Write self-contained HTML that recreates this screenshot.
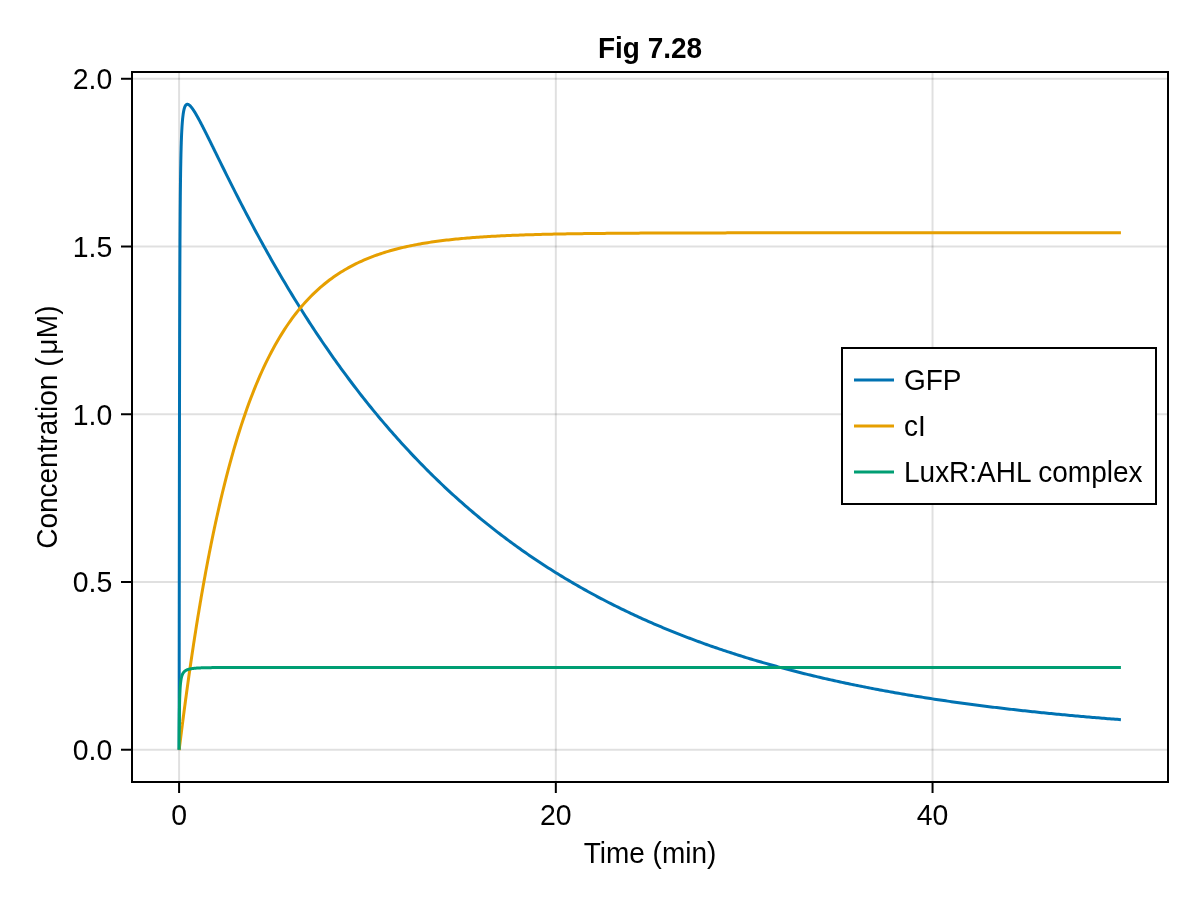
<!DOCTYPE html>
<html lang="en">
<head>
<meta charset="utf-8">
<title>Fig 7.28</title>
<style>
html,body{margin:0;padding:0;background:#fff;}
body{width:1200px;height:900px;overflow:hidden;}
svg{display:block;}
text{font-family:"Liberation Sans",Arial,Helvetica,sans-serif;font-size:28px;fill:#000;}
.b{font-weight:bold;}
.grid line{stroke:#000;stroke-opacity:0.12;stroke-width:2;}
.tick line{stroke:#000;stroke-width:2;}
.curve{fill:none;stroke-width:3;stroke-linejoin:round;stroke-linecap:butt;}
</style>
</head>
<body>
<svg width="1200" height="900" viewBox="0 0 1200 900">
<rect x="0" y="0" width="1200" height="900" fill="#ffffff"/>
<g class="grid">
<line x1="179.09" y1="72" x2="179.09" y2="782"/>
<line x1="555.82" y1="72" x2="555.82" y2="782"/>
<line x1="932.55" y1="72" x2="932.55" y2="782"/>
<line x1="132" y1="749.73" x2="1168" y2="749.73"/>
<line x1="132" y1="581.99" x2="1168" y2="581.99"/>
<line x1="132" y1="414.25" x2="1168" y2="414.25"/>
<line x1="132" y1="246.51" x2="1168" y2="246.51"/>
<line x1="132" y1="78.77" x2="1168" y2="78.77"/>
</g>
<g id="curves">
<path class="curve" stroke="#0072B2" d="M179.09,749.73L179.11,743.87L179.13,731.49L179.15,716.00L179.17,698.74L179.19,680.43L179.20,661.52
L179.22,642.33L179.24,623.10L179.26,604.01L179.28,585.21L179.30,566.82L179.32,548.92L179.34,531.60
L179.35,514.88L179.37,498.82L179.39,483.42L179.41,468.69L179.43,454.64L179.45,441.24L179.47,428.49
L179.52,393.87L179.58,364.20L179.64,338.74L179.69,316.84L179.75,297.90L179.81,281.43L179.86,267.03
L179.92,254.37L179.98,243.17L180.03,233.21L180.09,224.30L180.15,216.30L180.20,209.09L180.26,202.55
L180.32,196.61L180.37,191.18L180.43,186.21L180.48,181.64L180.54,177.43L180.60,173.54L180.65,169.94
L180.71,166.59L180.77,163.48L180.82,160.58L180.88,157.86L180.94,155.32L180.99,152.94L181.05,150.70
L181.11,148.59L181.16,146.61L181.22,144.74L181.28,142.97L181.33,141.29L181.39,139.71L181.45,138.21
L181.50,136.78L181.56,135.43L181.61,134.14L181.67,132.91L181.73,131.74L181.78,130.63L181.84,129.57
L181.90,128.55L181.95,127.59L182.01,126.66L182.07,125.77L182.12,124.92L182.18,124.11L182.24,123.33
L182.29,122.59L182.35,121.87L182.41,121.18L182.46,120.52L182.52,119.89L182.58,119.28L182.63,118.69
L182.69,118.13L182.75,117.59L182.80,117.07L182.86,116.56L183.14,114.32L183.42,112.45L183.71,110.89
L183.99,109.58L184.27,108.49L184.55,107.58L184.84,106.82L185.12,106.19L185.40,105.67L185.68,105.25
L185.97,104.92L186.25,104.67L186.53,104.49L186.81,104.36L187.10,104.29L187.38,104.27L187.66,104.30
L187.94,104.36L188.23,104.46L188.51,104.59L188.79,104.75L189.07,104.93L189.36,105.15L189.64,105.38
L189.92,105.64L190.20,105.92L190.49,106.21L190.77,106.52L191.05,106.85L191.33,107.19L191.62,107.54
L191.90,107.91L192.18,108.29L192.46,108.68L192.75,109.08L193.03,109.49L193.31,109.91L193.59,110.34
L193.88,110.77L194.16,111.21L194.44,111.66L194.73,112.12L195.01,112.58L195.29,113.05L195.57,113.52
L195.86,114.00L196.14,114.49L196.42,114.98L196.70,115.47L196.99,115.97L197.27,116.47L197.55,116.98
L197.83,117.49L198.12,118.00L198.40,118.51L198.68,119.03L198.96,119.56L199.25,120.08L199.53,120.61
L199.81,121.14L200.09,121.67L200.38,122.21L200.66,122.74L200.94,123.28L201.22,123.82L201.51,124.37
L201.79,124.91L202.07,125.46L202.35,126.01L202.64,126.56L202.92,127.11L203.20,127.66L203.48,128.21
L203.77,128.77L204.05,129.33L204.33,129.88L204.61,130.44L204.90,131.00L205.18,131.56L205.46,132.13
L205.74,132.69L206.03,133.25L206.31,133.82L206.59,134.38L206.87,134.95L207.16,135.51L207.44,136.08
L207.72,136.65L208.00,137.22L208.29,137.79L208.57,138.36L208.85,138.93L209.13,139.50L209.42,140.07
L209.70,140.64L209.98,141.21L210.27,141.78L210.55,142.36L210.83,142.93L211.11,143.50L211.40,144.08
L211.68,144.65L211.96,145.22L212.24,145.80L212.53,146.37L212.81,146.95L213.09,147.52L213.37,148.09
L213.66,148.67L213.94,149.24L214.22,149.82L214.50,150.39L214.79,150.97L215.07,151.54L215.35,152.12
L215.63,152.69L215.92,153.27L216.20,153.84L216.48,154.42L216.76,154.99L218.65,158.82L220.53,162.65
L222.41,166.47L224.30,170.27L226.18,174.07L228.07,177.85L229.95,181.62L231.83,185.37L233.72,189.10
L235.60,192.82L237.48,196.52L239.37,200.20L241.25,203.86L243.13,207.50L245.02,211.12L246.90,214.72
L248.79,218.30L250.67,221.86L252.55,225.40L254.44,228.92L256.32,232.42L258.20,235.90L260.09,239.35
L261.97,242.79L263.85,246.20L265.74,249.59L267.62,252.96L269.51,256.31L271.39,259.64L273.27,262.95
L275.16,266.23L277.04,269.50L278.92,272.74L280.81,275.96L282.69,279.17L284.57,282.35L286.46,285.51
L288.34,288.65L290.23,291.76L292.11,294.86L293.99,297.94L295.88,301.00L297.76,304.03L299.64,307.05
L301.53,310.05L303.41,313.03L305.29,315.98L307.18,318.92L309.06,321.84L310.95,324.73L312.83,327.61
L314.71,330.47L316.60,333.31L318.48,336.13L320.36,338.93L322.25,341.72L324.13,344.48L326.01,347.22
L327.90,349.95L329.78,352.66L331.67,355.35L333.55,358.02L335.43,360.67L337.32,363.31L339.20,365.92
L341.08,368.52L342.97,371.10L344.85,373.67L346.73,376.21L348.62,378.74L350.50,381.25L352.39,383.75
L354.27,386.22L356.15,388.68L358.04,391.13L359.92,393.55L361.80,395.96L363.69,398.36L365.57,400.73
L367.45,403.09L369.34,405.44L371.22,407.77L373.11,410.08L374.99,412.38L376.87,414.66L378.76,416.92
L380.64,419.17L382.52,421.40L384.41,423.62L386.29,425.82L388.17,428.01L390.06,430.18L391.94,432.34
L393.83,434.48L395.71,436.61L397.59,438.73L399.48,440.82L401.36,442.91L403.24,444.98L405.13,447.03
L407.01,449.07L408.89,451.10L410.78,453.11L412.66,455.11L414.55,457.10L416.43,459.07L418.31,461.03
L420.20,462.97L422.08,464.90L423.96,466.82L425.85,468.72L427.73,470.61L429.61,472.49L431.50,474.36
L433.38,476.21L435.27,478.05L437.15,479.87L439.03,481.69L440.92,483.49L442.80,485.28L444.68,487.05
L446.57,488.82L448.45,490.57L450.33,492.31L452.22,494.03L454.10,495.75L455.99,497.45L457.87,499.14
L459.75,500.82L461.64,502.49L463.52,504.15L465.40,505.79L467.29,507.43L469.17,509.05L471.05,510.66
L472.94,512.26L474.82,513.85L476.71,515.43L478.59,516.99L480.47,518.55L482.36,520.09L484.24,521.63
L486.12,523.15L488.01,524.66L489.89,526.17L491.77,527.66L493.66,529.14L495.54,530.61L497.43,532.07
L499.31,533.52L501.19,534.96L503.08,536.39L504.96,537.81L506.84,539.22L508.73,540.63L510.61,542.02
L512.49,543.40L514.38,544.77L516.26,546.13L518.15,547.49L520.03,548.83L521.91,550.16L523.80,551.49
L525.68,552.80L527.56,554.11L529.45,555.41L531.33,556.70L533.21,557.98L535.10,559.25L536.98,560.51
L538.87,561.76L540.75,563.00L542.63,564.24L544.52,565.47L546.40,566.68L548.28,567.89L550.17,569.10
L552.05,570.29L553.93,571.47L555.82,572.65L557.70,573.82L559.59,574.98L561.47,576.13L563.35,577.27
L565.24,578.41L567.12,579.54L569.00,580.66L570.89,581.77L572.77,582.88L574.65,583.97L576.54,585.06
L578.42,586.14L580.31,587.22L582.19,588.29L584.07,589.34L585.96,590.40L587.84,591.44L589.72,592.48
L591.61,593.51L593.49,594.53L595.37,595.55L597.26,596.56L599.14,597.56L601.03,598.55L602.91,599.54
L604.79,600.52L606.68,601.49L608.56,602.46L610.44,603.42L612.33,604.38L614.21,605.32L616.09,606.26
L617.98,607.20L619.86,608.12L621.75,609.05L623.63,609.96L625.51,610.87L627.40,611.77L629.28,612.67
L631.16,613.56L633.05,614.44L634.93,615.32L636.81,616.19L638.70,617.05L640.58,617.91L642.47,618.76
L644.35,619.61L646.23,620.45L648.12,621.29L650.00,622.11L651.88,622.94L653.77,623.76L655.65,624.57
L657.53,625.37L659.42,626.17L661.30,626.97L663.19,627.76L665.07,628.54L666.95,629.32L668.84,630.10
L670.72,630.86L672.60,631.63L674.49,632.38L676.37,633.13L678.25,633.88L680.14,634.62L682.02,635.36
L683.91,636.09L685.79,636.82L687.67,637.54L689.56,638.25L691.44,638.96L693.32,639.67L695.21,640.37
L697.09,641.07L698.97,641.76L700.86,642.44L702.74,643.13L704.63,643.80L706.51,644.48L708.39,645.14
L710.28,645.81L712.16,646.46L714.04,647.12L715.93,647.77L717.81,648.41L719.69,649.05L721.58,649.69
L723.46,650.32L725.35,650.95L727.23,651.57L729.11,652.19L731.00,652.80L732.88,653.41L734.76,654.01
L736.65,654.61L738.53,655.21L740.41,655.80L742.30,656.39L744.18,656.98L746.07,657.56L747.95,658.13
L749.83,658.71L751.72,659.27L753.60,659.84L755.48,660.40L757.37,660.96L759.25,661.51L761.13,662.06
L763.02,662.60L764.90,663.14L766.79,663.68L768.67,664.21L770.55,664.74L772.44,665.27L774.32,665.79
L776.20,666.31L778.09,666.83L779.97,667.34L781.85,667.85L783.74,668.35L785.62,668.85L787.51,669.35
L789.39,669.84L791.27,670.33L793.16,670.82L795.04,671.30L796.92,671.78L798.81,672.26L800.69,672.74
L802.57,673.21L804.46,673.67L806.34,674.14L808.23,674.60L810.11,675.05L811.99,675.51L813.88,675.96
L815.76,676.41L817.64,676.85L819.53,677.29L821.41,677.73L823.29,678.17L825.18,678.60L827.06,679.03
L828.95,679.46L830.83,679.88L832.71,680.30L834.60,680.72L836.48,681.13L838.36,681.55L840.25,681.95
L842.13,682.36L844.01,682.76L845.90,683.16L847.78,683.56L849.67,683.96L851.55,684.35L853.43,684.74
L855.32,685.13L857.20,685.51L859.08,685.89L860.97,686.27L862.85,686.65L864.73,687.02L866.62,687.39
L868.50,687.76L870.39,688.12L872.27,688.49L874.15,688.85L876.04,689.20L877.92,689.56L879.80,689.91
L881.69,690.26L883.57,690.61L885.45,690.96L887.34,691.30L889.22,691.64L891.11,691.98L892.99,692.32
L894.87,692.65L896.76,692.98L898.64,693.31L900.52,693.64L902.41,693.96L904.29,694.28L906.17,694.61
L908.06,694.92L909.94,695.24L911.83,695.55L913.71,695.86L915.59,696.17L917.48,696.48L919.36,696.78
L921.24,697.09L923.13,697.39L925.01,697.69L926.89,697.98L928.78,698.28L930.66,698.57L932.55,698.86
L934.43,699.15L936.31,699.43L938.20,699.72L940.08,700.00L941.96,700.28L943.85,700.56L945.73,700.83
L947.61,701.11L949.50,701.38L951.38,701.65L953.27,701.92L955.15,702.19L957.03,702.45L958.92,702.72
L960.80,702.98L962.68,703.24L964.57,703.49L966.45,703.75L968.33,704.00L970.22,704.26L972.10,704.51
L973.99,704.76L975.87,705.00L977.75,705.25L979.64,705.49L981.52,705.73L983.40,705.97L985.29,706.21
L987.17,706.45L989.05,706.68L990.94,706.92L992.82,707.15L994.71,707.38L996.59,707.61L998.47,707.84
L1000.36,708.06L1002.24,708.29L1004.12,708.51L1006.01,708.73L1007.89,708.95L1009.77,709.17L1011.66,709.38
L1013.54,709.60L1015.43,709.81L1017.31,710.02L1019.19,710.23L1021.08,710.44L1022.96,710.65L1024.84,710.85
L1026.73,711.06L1028.61,711.26L1030.49,711.46L1032.38,711.66L1034.26,711.86L1036.15,712.06L1038.03,712.26
L1039.91,712.45L1041.80,712.64L1043.68,712.84L1045.56,713.03L1047.45,713.22L1049.33,713.41L1051.21,713.59
L1053.10,713.78L1054.98,713.96L1056.87,714.14L1058.75,714.33L1060.63,714.51L1062.52,714.69L1064.40,714.86
L1066.28,715.04L1068.17,715.21L1070.05,715.39L1071.93,715.56L1073.82,715.73L1075.70,715.90L1077.59,716.07
L1079.47,716.24L1081.35,716.41L1083.24,716.57L1085.12,716.74L1087.00,716.90L1088.89,717.06L1090.77,717.23
L1092.65,717.39L1094.54,717.54L1096.42,717.70L1098.31,717.86L1100.19,718.01L1102.07,718.17L1103.96,718.32
L1105.84,718.48L1107.72,718.63L1109.61,718.78L1111.49,718.93L1113.37,719.07L1115.26,719.22L1117.14,719.37
L1119.03,719.51L1120.91,719.66"/>
<path class="curve" stroke="#E69F00" d="M179.09,749.73L179.11,749.69L179.13,749.61L179.15,749.52L179.17,749.41L179.19,749.29L179.20,749.17
L179.22,749.04L179.24,748.91L179.26,748.78L179.28,748.65L179.30,748.51L179.32,748.37L179.34,748.24
L179.35,748.10L179.37,747.96L179.39,747.81L179.41,747.67L179.43,747.53L179.45,747.39L179.47,747.24
L179.52,746.81L179.58,746.37L179.64,745.93L179.69,745.49L179.75,745.05L179.81,744.61L179.86,744.16
L179.92,743.72L179.98,743.27L180.03,742.83L180.09,742.38L180.15,741.93L180.20,741.49L180.26,741.04
L180.32,740.59L180.37,740.15L180.43,739.70L180.48,739.25L180.54,738.80L180.60,738.36L180.65,737.91
L180.71,737.46L180.77,737.01L180.82,736.57L180.88,736.12L180.94,735.67L180.99,735.23L181.05,734.78
L181.11,734.34L181.16,733.89L181.22,733.45L181.28,733.00L181.33,732.56L181.39,732.11L181.45,731.67
L181.50,731.22L181.56,730.78L181.61,730.34L181.67,729.89L181.73,729.45L181.78,729.01L181.84,728.56
L181.90,728.12L181.95,727.68L182.01,727.24L182.07,726.80L182.12,726.36L182.18,725.92L182.24,725.48
L182.29,725.04L182.35,724.60L182.41,724.16L182.46,723.72L182.52,723.28L182.58,722.84L182.63,722.41
L182.69,721.97L182.75,721.53L182.80,721.09L182.86,720.66L183.14,718.48L183.42,716.31L183.71,714.15
L183.99,712.00L184.27,709.86L184.55,707.73L184.84,705.60L185.12,703.49L185.40,701.38L185.68,699.28
L185.97,697.20L186.25,695.12L186.53,693.05L186.81,690.99L187.10,688.93L187.38,686.89L187.66,684.86
L187.94,682.83L188.23,680.82L188.51,678.81L188.79,676.81L189.07,674.82L189.36,672.84L189.64,670.87
L189.92,668.90L190.20,666.95L190.49,665.00L190.77,663.06L191.05,661.13L191.33,659.21L191.62,657.30
L191.90,655.40L192.18,653.50L192.46,651.62L192.75,649.74L193.03,647.87L193.31,646.01L193.59,644.15
L193.88,642.31L194.16,640.47L194.44,638.64L194.73,636.82L195.01,635.01L195.29,633.20L195.57,631.41
L195.86,629.62L196.14,627.84L196.42,626.07L196.70,624.30L196.99,622.55L197.27,620.80L197.55,619.06
L197.83,617.32L198.12,615.60L198.40,613.88L198.68,612.17L198.96,610.47L199.25,608.77L199.53,607.09
L199.81,605.41L200.09,603.73L200.38,602.07L200.66,600.41L200.94,598.76L201.22,597.12L201.51,595.48
L201.79,593.86L202.07,592.24L202.35,590.62L202.64,589.02L202.92,587.42L203.20,585.83L203.48,584.24
L203.77,582.66L204.05,581.09L204.33,579.53L204.61,577.97L204.90,576.42L205.18,574.88L205.46,573.35
L205.74,571.82L206.03,570.30L206.31,568.78L206.59,567.27L206.87,565.77L207.16,564.28L207.44,562.79
L207.72,561.31L208.00,559.83L208.29,558.37L208.57,556.90L208.85,555.45L209.13,554.00L209.42,552.56
L209.70,551.12L209.98,549.69L210.27,548.27L210.55,546.86L210.83,545.45L211.11,544.04L211.40,542.64
L211.68,541.25L211.96,539.87L212.24,538.49L212.53,537.12L212.81,535.75L213.09,534.39L213.37,533.04
L213.66,531.69L213.94,530.35L214.22,529.01L214.50,527.68L214.79,526.36L215.07,525.04L215.35,523.73
L215.63,522.42L215.92,521.12L216.20,519.83L216.48,518.54L216.76,517.26L218.65,508.85L220.53,500.69
L222.41,492.77L224.30,485.09L226.18,477.63L228.07,470.40L229.95,463.38L231.83,456.56L233.72,449.95
L235.60,443.53L237.48,437.30L239.37,431.26L241.25,425.39L243.13,419.70L245.02,414.18L246.90,408.82
L248.79,403.61L250.67,398.56L252.55,393.67L254.44,388.91L256.32,384.30L258.20,379.82L260.09,375.47
L261.97,371.26L263.85,367.16L265.74,363.19L267.62,359.34L269.51,355.60L271.39,351.97L273.27,348.45
L275.16,345.03L277.04,341.71L278.92,338.49L280.81,335.37L282.69,332.34L284.57,329.39L286.46,326.54
L288.34,323.77L290.23,321.08L292.11,318.47L293.99,315.94L295.88,313.48L297.76,311.10L299.64,308.78
L301.53,306.54L303.41,304.36L305.29,302.24L307.18,300.19L309.06,298.20L310.95,296.26L312.83,294.39
L314.71,292.57L316.60,290.80L318.48,289.09L320.36,287.42L322.25,285.81L324.13,284.24L326.01,282.72
L327.90,281.24L329.78,279.81L331.67,278.42L333.55,277.07L335.43,275.76L337.32,274.49L339.20,273.26
L341.08,272.07L342.97,270.91L344.85,269.78L346.73,268.69L348.62,267.62L350.50,266.60L352.39,265.60
L354.27,264.63L356.15,263.69L358.04,262.77L359.92,261.89L361.80,261.03L363.69,260.19L365.57,259.38
L367.45,258.60L369.34,257.83L371.22,257.09L373.11,256.37L374.99,255.68L376.87,255.00L378.76,254.34
L380.64,253.71L382.52,253.09L384.41,252.49L386.29,251.91L388.17,251.34L390.06,250.79L391.94,250.26
L393.83,249.75L395.71,249.24L397.59,248.76L399.48,248.29L401.36,247.83L403.24,247.38L405.13,246.95
L407.01,246.53L408.89,246.13L410.78,245.73L412.66,245.35L414.55,244.98L416.43,244.62L418.31,244.27
L420.20,243.93L422.08,243.60L423.96,243.28L425.85,242.97L427.73,242.67L429.61,242.38L431.50,242.09
L433.38,241.82L435.27,241.55L437.15,241.29L439.03,241.04L440.92,240.80L442.80,240.56L444.68,240.33
L446.57,240.11L448.45,239.89L450.33,239.68L452.22,239.48L454.10,239.28L455.99,239.09L457.87,238.90
L459.75,238.72L461.64,238.55L463.52,238.38L465.40,238.21L467.29,238.05L469.17,237.90L471.05,237.75
L472.94,237.60L474.82,237.46L476.71,237.32L478.59,237.18L480.47,237.06L482.36,236.93L484.24,236.81
L486.12,236.69L488.01,236.57L489.89,236.46L491.77,236.35L493.66,236.25L495.54,236.14L497.43,236.05
L499.31,235.95L501.19,235.86L503.08,235.77L504.96,235.68L506.84,235.59L508.73,235.51L510.61,235.43
L512.49,235.35L514.38,235.28L516.26,235.20L518.15,235.13L520.03,235.06L521.91,234.99L523.80,234.93
L525.68,234.87L527.56,234.80L529.45,234.74L531.33,234.69L533.21,234.63L535.10,234.58L536.98,234.52
L538.87,234.47L540.75,234.42L542.63,234.37L544.52,234.33L546.40,234.28L548.28,234.24L550.17,234.20
L552.05,234.15L553.93,234.11L555.82,234.07L557.70,234.04L559.59,234.00L561.47,233.96L563.35,233.93
L565.24,233.90L567.12,233.86L569.00,233.83L570.89,233.80L572.77,233.77L574.65,233.74L576.54,233.71
L578.42,233.69L580.31,233.66L582.19,233.63L584.07,233.61L585.96,233.58L587.84,233.56L589.72,233.54
L591.61,233.52L593.49,233.49L595.37,233.47L597.26,233.45L599.14,233.43L601.03,233.41L602.91,233.40
L604.79,233.38L606.68,233.36L608.56,233.34L610.44,233.33L612.33,233.31L614.21,233.30L616.09,233.28
L617.98,233.27L619.86,233.25L621.75,233.24L623.63,233.23L625.51,233.21L627.40,233.20L629.28,233.19
L631.16,233.18L633.05,233.16L634.93,233.15L636.81,233.14L638.70,233.13L640.58,233.12L642.47,233.11
L644.35,233.10L646.23,233.09L648.12,233.08L650.00,233.08L651.88,233.07L653.77,233.06L655.65,233.05
L657.53,233.04L659.42,233.04L661.30,233.03L663.19,233.02L665.07,233.01L666.95,233.01L668.84,233.00
L670.72,233.00L672.60,232.99L674.49,232.98L676.37,232.98L678.25,232.97L680.14,232.97L682.02,232.96
L683.91,232.96L685.79,232.95L687.67,232.95L689.56,232.94L691.44,232.94L693.32,232.93L695.21,232.93
L697.09,232.92L698.97,232.92L700.86,232.92L702.74,232.91L704.63,232.91L706.51,232.91L708.39,232.90
L710.28,232.90L712.16,232.90L714.04,232.89L715.93,232.89L717.81,232.89L719.69,232.88L721.58,232.88
L723.46,232.88L725.35,232.88L727.23,232.87L729.11,232.87L731.00,232.87L732.88,232.87L734.76,232.86
L736.65,232.86L738.53,232.86L740.41,232.86L742.30,232.86L744.18,232.85L746.07,232.85L747.95,232.85
L749.83,232.85L751.72,232.85L753.60,232.84L755.48,232.84L757.37,232.84L759.25,232.84L761.13,232.84
L763.02,232.84L764.90,232.84L766.79,232.83L768.67,232.83L770.55,232.83L772.44,232.83L774.32,232.83
L776.20,232.83L778.09,232.83L779.97,232.83L781.85,232.82L783.74,232.82L785.62,232.82L787.51,232.82
L789.39,232.82L791.27,232.82L793.16,232.82L795.04,232.82L796.92,232.82L798.81,232.82L800.69,232.82
L802.57,232.81L804.46,232.81L806.34,232.81L808.23,232.81L810.11,232.81L811.99,232.81L813.88,232.81
L815.76,232.81L817.64,232.81L819.53,232.81L821.41,232.81L823.29,232.81L825.18,232.81L827.06,232.81
L828.95,232.81L830.83,232.81L832.71,232.80L834.60,232.80L836.48,232.80L838.36,232.80L840.25,232.80
L842.13,232.80L844.01,232.80L845.90,232.80L847.78,232.80L849.67,232.80L851.55,232.80L853.43,232.80
L855.32,232.80L857.20,232.80L859.08,232.80L860.97,232.80L862.85,232.80L864.73,232.80L866.62,232.80
L868.50,232.80L870.39,232.80L872.27,232.80L874.15,232.80L876.04,232.80L877.92,232.80L879.80,232.80
L881.69,232.80L883.57,232.80L885.45,232.80L887.34,232.80L889.22,232.80L891.11,232.80L892.99,232.80
L894.87,232.80L896.76,232.79L898.64,232.79L900.52,232.79L902.41,232.79L904.29,232.79L906.17,232.79
L908.06,232.79L909.94,232.79L911.83,232.79L913.71,232.79L915.59,232.79L917.48,232.79L919.36,232.79
L921.24,232.79L923.13,232.79L925.01,232.79L926.89,232.79L928.78,232.79L930.66,232.79L932.55,232.79
L934.43,232.79L936.31,232.79L938.20,232.79L940.08,232.79L941.96,232.79L943.85,232.79L945.73,232.79
L947.61,232.79L949.50,232.79L951.38,232.79L953.27,232.79L955.15,232.79L957.03,232.79L958.92,232.79
L960.80,232.79L962.68,232.79L964.57,232.79L966.45,232.79L968.33,232.79L970.22,232.79L972.10,232.79
L973.99,232.79L975.87,232.79L977.75,232.79L979.64,232.79L981.52,232.79L983.40,232.79L985.29,232.79
L987.17,232.79L989.05,232.79L990.94,232.79L992.82,232.79L994.71,232.79L996.59,232.79L998.47,232.79
L1000.36,232.79L1002.24,232.79L1004.12,232.79L1006.01,232.79L1007.89,232.79L1009.77,232.79L1011.66,232.79
L1013.54,232.79L1015.43,232.79L1017.31,232.79L1019.19,232.79L1021.08,232.79L1022.96,232.79L1024.84,232.79
L1026.73,232.79L1028.61,232.79L1030.49,232.79L1032.38,232.79L1034.26,232.79L1036.15,232.79L1038.03,232.79
L1039.91,232.79L1041.80,232.79L1043.68,232.79L1045.56,232.79L1047.45,232.79L1049.33,232.79L1051.21,232.79
L1053.10,232.79L1054.98,232.79L1056.87,232.79L1058.75,232.79L1060.63,232.79L1062.52,232.79L1064.40,232.79
L1066.28,232.79L1068.17,232.79L1070.05,232.79L1071.93,232.79L1073.82,232.79L1075.70,232.79L1077.59,232.79
L1079.47,232.79L1081.35,232.79L1083.24,232.79L1085.12,232.79L1087.00,232.79L1088.89,232.79L1090.77,232.79
L1092.65,232.79L1094.54,232.79L1096.42,232.79L1098.31,232.79L1100.19,232.79L1102.07,232.79L1103.96,232.79
L1105.84,232.79L1107.72,232.79L1109.61,232.79L1111.49,232.79L1113.37,232.79L1115.26,232.79L1117.14,232.79
L1119.03,232.79L1120.91,232.79"/>
<path class="curve" stroke="#009E73" d="M179.09,749.73L179.11,745.73L179.13,742.10L179.15,738.79L179.17,735.75L179.19,732.95L179.20,730.37
L179.22,727.98L179.24,725.77L179.26,723.70L179.28,721.77L179.30,719.97L179.32,718.28L179.34,716.69
L179.35,715.20L179.37,713.79L179.39,712.46L179.41,711.20L179.43,710.01L179.45,708.87L179.47,707.80
L179.52,704.88L179.58,702.33L179.64,700.10L179.69,698.13L179.75,696.37L179.81,694.79L179.86,693.37
L179.92,692.09L179.98,690.91L180.03,689.84L180.09,688.86L180.15,687.95L180.20,687.12L180.26,686.34
L180.32,685.62L180.37,684.95L180.43,684.33L180.48,683.74L180.54,683.19L180.60,682.67L180.65,682.18
L180.71,681.73L180.77,681.29L180.82,680.88L180.88,680.49L180.94,680.12L180.99,679.77L181.05,679.44
L181.11,679.12L181.16,678.82L181.22,678.53L181.28,678.25L181.33,677.99L181.39,677.73L181.45,677.49
L181.50,677.26L181.56,677.03L181.61,676.82L181.67,676.61L181.73,676.41L181.78,676.22L181.84,676.04
L181.90,675.86L181.95,675.69L182.01,675.52L182.07,675.36L182.12,675.21L182.18,675.06L182.24,674.92
L182.29,674.78L182.35,674.64L182.41,674.51L182.46,674.38L182.52,674.26L182.58,674.14L182.63,674.02
L182.69,673.91L182.75,673.80L182.80,673.69L182.86,673.59L183.14,673.11L183.42,672.69L183.71,672.32
L183.99,671.99L184.27,671.69L184.55,671.42L184.84,671.18L185.12,670.96L185.40,670.76L185.68,670.58
L185.97,670.41L186.25,670.26L186.53,670.11L186.81,669.98L187.10,669.86L187.38,669.74L187.66,669.63
L187.94,669.53L188.23,669.44L188.51,669.35L188.79,669.27L189.07,669.19L189.36,669.12L189.64,669.05
L189.92,668.99L190.20,668.92L190.49,668.87L190.77,668.81L191.05,668.76L191.33,668.71L191.62,668.66
L191.90,668.62L192.18,668.57L192.46,668.53L192.75,668.49L193.03,668.46L193.31,668.42L193.59,668.39
L193.88,668.36L194.16,668.33L194.44,668.30L194.73,668.27L195.01,668.24L195.29,668.22L195.57,668.19
L195.86,668.17L196.14,668.14L196.42,668.12L196.70,668.10L196.99,668.08L197.27,668.06L197.55,668.04
L197.83,668.03L198.12,668.01L198.40,667.99L198.68,667.98L198.96,667.96L199.25,667.95L199.53,667.93
L199.81,667.92L200.09,667.91L200.38,667.89L200.66,667.88L200.94,667.87L201.22,667.86L201.51,667.85
L201.79,667.84L202.07,667.83L202.35,667.82L202.64,667.81L202.92,667.80L203.20,667.79L203.48,667.78
L203.77,667.77L204.05,667.76L204.33,667.76L204.61,667.75L204.90,667.74L205.18,667.73L205.46,667.73
L205.74,667.72L206.03,667.71L206.31,667.71L206.59,667.70L206.87,667.70L207.16,667.69L207.44,667.69
L207.72,667.68L208.00,667.68L208.29,667.67L208.57,667.67L208.85,667.66L209.13,667.66L209.42,667.65
L209.70,667.65L209.98,667.64L210.27,667.64L210.55,667.64L210.83,667.63L211.11,667.63L211.40,667.63
L211.68,667.62L211.96,667.62L212.24,667.62L212.53,667.61L212.81,667.61L213.09,667.61L213.37,667.61
L213.66,667.60L213.94,667.60L214.22,667.60L214.50,667.60L214.79,667.59L215.07,667.59L215.35,667.59
L215.63,667.59L215.92,667.58L216.20,667.58L216.48,667.58L216.76,667.58L218.65,667.57L220.53,667.56
L222.41,667.55L224.30,667.55L226.18,667.54L228.07,667.54L229.95,667.53L231.83,667.53L233.72,667.53
L235.60,667.53L237.48,667.53L239.37,667.52L241.25,667.52L243.13,667.52L245.02,667.52L246.90,667.52
L248.79,667.52L250.67,667.52L252.55,667.52L254.44,667.52L256.32,667.52L258.20,667.52L260.09,667.52
L261.97,667.52L263.85,667.52L265.74,667.52L267.62,667.52L269.51,667.52L271.39,667.52L273.27,667.52
L275.16,667.52L277.04,667.52L278.92,667.52L280.81,667.52L282.69,667.52L284.57,667.52L286.46,667.52
L288.34,667.52L290.23,667.52L292.11,667.52L293.99,667.52L295.88,667.52L297.76,667.52L299.64,667.52
L301.53,667.52L303.41,667.52L305.29,667.52L307.18,667.52L309.06,667.52L310.95,667.52L312.83,667.52
L314.71,667.52L316.60,667.52L318.48,667.52L320.36,667.52L322.25,667.52L324.13,667.52L326.01,667.52
L327.90,667.52L329.78,667.52L331.67,667.52L333.55,667.52L335.43,667.52L337.32,667.52L339.20,667.52
L341.08,667.52L342.97,667.52L344.85,667.52L346.73,667.52L348.62,667.52L350.50,667.52L352.39,667.52
L354.27,667.52L356.15,667.52L358.04,667.52L359.92,667.52L361.80,667.52L363.69,667.52L365.57,667.52
L367.45,667.52L369.34,667.52L371.22,667.52L373.11,667.52L374.99,667.52L376.87,667.52L378.76,667.52
L380.64,667.52L382.52,667.52L384.41,667.52L386.29,667.52L388.17,667.52L390.06,667.52L391.94,667.52
L393.83,667.52L395.71,667.52L397.59,667.52L399.48,667.52L401.36,667.52L403.24,667.52L405.13,667.52
L407.01,667.52L408.89,667.52L410.78,667.52L412.66,667.52L414.55,667.52L416.43,667.52L418.31,667.52
L420.20,667.52L422.08,667.52L423.96,667.52L425.85,667.52L427.73,667.52L429.61,667.52L431.50,667.52
L433.38,667.52L435.27,667.52L437.15,667.52L439.03,667.52L440.92,667.52L442.80,667.52L444.68,667.52
L446.57,667.52L448.45,667.52L450.33,667.52L452.22,667.52L454.10,667.52L455.99,667.52L457.87,667.52
L459.75,667.52L461.64,667.52L463.52,667.52L465.40,667.52L467.29,667.52L469.17,667.52L471.05,667.52
L472.94,667.52L474.82,667.52L476.71,667.52L478.59,667.52L480.47,667.52L482.36,667.52L484.24,667.52
L486.12,667.52L488.01,667.52L489.89,667.52L491.77,667.52L493.66,667.52L495.54,667.52L497.43,667.52
L499.31,667.52L501.19,667.52L503.08,667.52L504.96,667.52L506.84,667.52L508.73,667.52L510.61,667.52
L512.49,667.52L514.38,667.52L516.26,667.52L518.15,667.52L520.03,667.52L521.91,667.52L523.80,667.52
L525.68,667.52L527.56,667.52L529.45,667.52L531.33,667.52L533.21,667.52L535.10,667.52L536.98,667.52
L538.87,667.52L540.75,667.52L542.63,667.52L544.52,667.52L546.40,667.52L548.28,667.52L550.17,667.52
L552.05,667.52L553.93,667.52L555.82,667.52L557.70,667.52L559.59,667.52L561.47,667.52L563.35,667.52
L565.24,667.52L567.12,667.52L569.00,667.52L570.89,667.52L572.77,667.52L574.65,667.52L576.54,667.52
L578.42,667.52L580.31,667.52L582.19,667.52L584.07,667.52L585.96,667.52L587.84,667.52L589.72,667.52
L591.61,667.52L593.49,667.52L595.37,667.52L597.26,667.52L599.14,667.52L601.03,667.52L602.91,667.52
L604.79,667.52L606.68,667.52L608.56,667.52L610.44,667.52L612.33,667.52L614.21,667.52L616.09,667.52
L617.98,667.52L619.86,667.52L621.75,667.52L623.63,667.52L625.51,667.52L627.40,667.52L629.28,667.52
L631.16,667.52L633.05,667.52L634.93,667.52L636.81,667.52L638.70,667.52L640.58,667.52L642.47,667.52
L644.35,667.52L646.23,667.52L648.12,667.52L650.00,667.52L651.88,667.52L653.77,667.52L655.65,667.52
L657.53,667.52L659.42,667.52L661.30,667.52L663.19,667.52L665.07,667.52L666.95,667.52L668.84,667.52
L670.72,667.52L672.60,667.52L674.49,667.52L676.37,667.52L678.25,667.52L680.14,667.52L682.02,667.52
L683.91,667.52L685.79,667.52L687.67,667.52L689.56,667.52L691.44,667.52L693.32,667.52L695.21,667.52
L697.09,667.52L698.97,667.52L700.86,667.52L702.74,667.52L704.63,667.52L706.51,667.52L708.39,667.52
L710.28,667.52L712.16,667.52L714.04,667.52L715.93,667.52L717.81,667.52L719.69,667.52L721.58,667.52
L723.46,667.52L725.35,667.52L727.23,667.52L729.11,667.52L731.00,667.52L732.88,667.52L734.76,667.52
L736.65,667.52L738.53,667.52L740.41,667.52L742.30,667.52L744.18,667.52L746.07,667.52L747.95,667.52
L749.83,667.52L751.72,667.52L753.60,667.52L755.48,667.52L757.37,667.52L759.25,667.52L761.13,667.52
L763.02,667.52L764.90,667.52L766.79,667.52L768.67,667.52L770.55,667.52L772.44,667.52L774.32,667.52
L776.20,667.52L778.09,667.52L779.97,667.52L781.85,667.52L783.74,667.52L785.62,667.52L787.51,667.52
L789.39,667.52L791.27,667.52L793.16,667.52L795.04,667.52L796.92,667.52L798.81,667.52L800.69,667.52
L802.57,667.52L804.46,667.52L806.34,667.52L808.23,667.52L810.11,667.52L811.99,667.52L813.88,667.52
L815.76,667.52L817.64,667.52L819.53,667.52L821.41,667.52L823.29,667.52L825.18,667.52L827.06,667.52
L828.95,667.52L830.83,667.52L832.71,667.52L834.60,667.52L836.48,667.52L838.36,667.52L840.25,667.52
L842.13,667.52L844.01,667.52L845.90,667.52L847.78,667.52L849.67,667.52L851.55,667.52L853.43,667.52
L855.32,667.52L857.20,667.52L859.08,667.52L860.97,667.52L862.85,667.52L864.73,667.52L866.62,667.52
L868.50,667.52L870.39,667.52L872.27,667.52L874.15,667.52L876.04,667.52L877.92,667.52L879.80,667.52
L881.69,667.52L883.57,667.52L885.45,667.52L887.34,667.52L889.22,667.52L891.11,667.52L892.99,667.52
L894.87,667.52L896.76,667.52L898.64,667.52L900.52,667.52L902.41,667.52L904.29,667.52L906.17,667.52
L908.06,667.52L909.94,667.52L911.83,667.52L913.71,667.52L915.59,667.52L917.48,667.52L919.36,667.52
L921.24,667.52L923.13,667.52L925.01,667.52L926.89,667.52L928.78,667.52L930.66,667.52L932.55,667.52
L934.43,667.52L936.31,667.52L938.20,667.52L940.08,667.52L941.96,667.52L943.85,667.52L945.73,667.52
L947.61,667.52L949.50,667.52L951.38,667.52L953.27,667.52L955.15,667.52L957.03,667.52L958.92,667.52
L960.80,667.52L962.68,667.52L964.57,667.52L966.45,667.52L968.33,667.52L970.22,667.52L972.10,667.52
L973.99,667.52L975.87,667.52L977.75,667.52L979.64,667.52L981.52,667.52L983.40,667.52L985.29,667.52
L987.17,667.52L989.05,667.52L990.94,667.52L992.82,667.52L994.71,667.52L996.59,667.52L998.47,667.52
L1000.36,667.52L1002.24,667.52L1004.12,667.52L1006.01,667.52L1007.89,667.52L1009.77,667.52L1011.66,667.52
L1013.54,667.52L1015.43,667.52L1017.31,667.52L1019.19,667.52L1021.08,667.52L1022.96,667.52L1024.84,667.52
L1026.73,667.52L1028.61,667.52L1030.49,667.52L1032.38,667.52L1034.26,667.52L1036.15,667.52L1038.03,667.52
L1039.91,667.52L1041.80,667.52L1043.68,667.52L1045.56,667.52L1047.45,667.52L1049.33,667.52L1051.21,667.52
L1053.10,667.52L1054.98,667.52L1056.87,667.52L1058.75,667.52L1060.63,667.52L1062.52,667.52L1064.40,667.52
L1066.28,667.52L1068.17,667.52L1070.05,667.52L1071.93,667.52L1073.82,667.52L1075.70,667.52L1077.59,667.52
L1079.47,667.52L1081.35,667.52L1083.24,667.52L1085.12,667.52L1087.00,667.52L1088.89,667.52L1090.77,667.52
L1092.65,667.52L1094.54,667.52L1096.42,667.52L1098.31,667.52L1100.19,667.52L1102.07,667.52L1103.96,667.52
L1105.84,667.52L1107.72,667.52L1109.61,667.52L1111.49,667.52L1113.37,667.52L1115.26,667.52L1117.14,667.52
L1119.03,667.52L1120.91,667.52"/>
</g>
<rect x="132" y="72" width="1036" height="710" fill="none" stroke="#000" stroke-width="2"/>
<g class="tick">
<line x1="179.09" y1="782" x2="179.09" y2="793"/>
<line x1="555.82" y1="782" x2="555.82" y2="793"/>
<line x1="932.55" y1="782" x2="932.55" y2="793"/>
<line x1="121" y1="749.73" x2="132" y2="749.73"/>
<line x1="121" y1="581.99" x2="132" y2="581.99"/>
<line x1="121" y1="414.25" x2="132" y2="414.25"/>
<line x1="121" y1="246.51" x2="132" y2="246.51"/>
<line x1="121" y1="78.77" x2="132" y2="78.77"/>
</g>
<g id="xticklabels">
<text text-anchor="middle" transform="translate(179.09,824.70) scale(1.015,1.065)">0</text>
<text text-anchor="middle" transform="translate(555.82,824.70) scale(1.015,1.065)">20</text>
<text text-anchor="middle" transform="translate(932.55,824.70) scale(1.015,1.065)">40</text>
</g>
<g id="yticklabels">
<text text-anchor="end" transform="translate(112.30,760.03) scale(1.015,1.065)">0.0</text>
<text text-anchor="end" transform="translate(112.30,592.29) scale(1.015,1.065)">0.5</text>
<text text-anchor="end" transform="translate(112.30,424.55) scale(1.015,1.065)">1.0</text>
<text text-anchor="end" transform="translate(112.30,256.81) scale(1.015,1.065)">1.5</text>
<text text-anchor="end" transform="translate(112.30,89.07) scale(1.015,1.065)">2.0</text>
</g>
<text class="b" text-anchor="middle" transform="translate(650.00,58.00) scale(1,1.065)">Fig 7.28</text>
<text text-anchor="middle" transform="translate(650.00,862.80) scale(1,1.065)">Time (min)</text>
<text transform="translate(57.40,548.80) rotate(-90) scale(1,1.065)">Concentration (<tspan dx="2.7">μ</tspan><tspan dx="0.3">M</tspan><tspan dx="0.3">)</tspan></text>
<g id="legend">
<rect x="842" y="348" width="314" height="156" fill="#fff" stroke="#000" stroke-width="2"/>
<line x1="854" y1="380" x2="894" y2="380" stroke="#0072B2" stroke-width="3"/>
<text transform="translate(904.00,390.20) scale(1,1.065)">GFP</text>
<line x1="854" y1="426" x2="894" y2="426" stroke="#E69F00" stroke-width="3"/>
<text transform="translate(904.00,436.20) scale(1,1.065)">cI</text>
<line x1="854" y1="472" x2="894" y2="472" stroke="#009E73" stroke-width="3"/>
<text transform="translate(904.00,482.20) scale(1,1.065)">LuxR:AHL complex</text>
</g>
</svg>
</body>
</html>
